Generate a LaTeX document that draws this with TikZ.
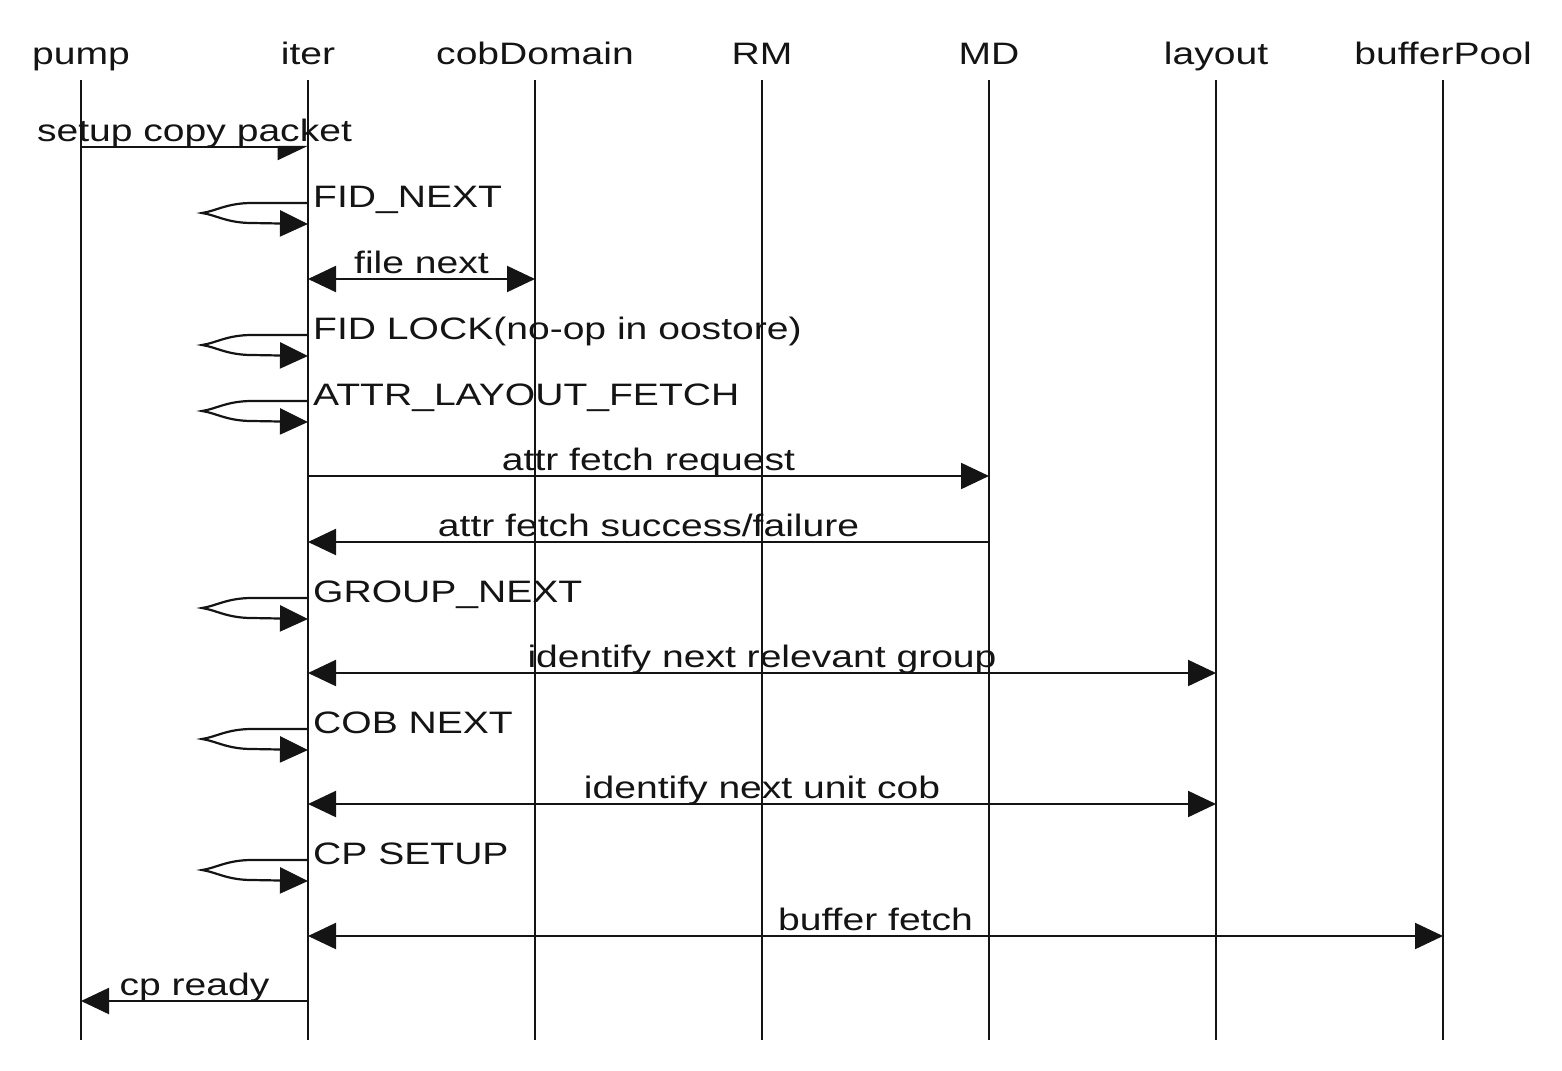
\documentclass[tikz,border=0pt]{standalone}
\usepackage{fontspec}
\setmainfont{Liberation Sans}[FakeStretch=1.26]
\usetikzlibrary{arrows.meta}
\definecolor{ink}{RGB}{20,20,20}
\newcommand{\sloop}[3]{%
  \coordinate (#1a) at (308,#2);
  \coordinate (#1b) at (308,#2+21);
  \node[selflbl] (#1l) at (313,#2+4) {#3};
  \draw[msg] (#1a) -- ++(-56,0) .. controls +(-25,0) and +(14,-2) .. ++(-50,10)
     .. controls +(14,2) and +(-25,0) .. ++(50,10) -- (#1b);
}
\begin{document}
\begin{tikzpicture}[x=1pt,y=-1pt,
  tip/.tip={Triangle[length=28pt,width=26pt]},
  life/.style={draw=ink,line width=2.2pt},
  msg/.style={draw=ink,line width=2.2pt,-tip},
  msghalf/.style={draw=ink,line width=2.2pt,-{Triangle[length=28pt,width=26pt,harpoon,swap]}},
  both/.style={draw=ink,line width=2.2pt,tip-tip},
  txt/.style={text=ink,inner sep=0pt,font=\fontsize{31}{33}\selectfont},
  head/.style={txt,anchor=base},
  lbl/.style={txt,anchor=base,yshift=6pt},
  selflbl/.style={txt,anchor=base west}]
\useasboundingbox (0,0) rectangle (1562,1070);

% lifeline heads
\node[head] (pump) at (81,65) {pump};
\node[head] (iter) at (308,65) {iter};
\node[head] (cob) at (535,65) {cobDomain};
\node[head] (rm) at (762,65) {RM};
\node[head] (md) at (989,65) {MD};
\node[head] (lay) at (1216,65) {layout};
\node[head] (bp) at (1443,65) {bufferPool};

\foreach \n/\x in {pump/81,iter/308,cob/535,rm/762,md/989,lay/1216,bp/1443}{
  \coordinate (\n top) at (\x,80);
  \coordinate (\n bot) at (\x,1040);
  \draw[life] (\n top) -- (\n bot);
}

% messages
\coordinate (m1s) at (81,147); \coordinate (m1e) at (308,147);
\draw[msghalf] (m1s) -- node[lbl] (l1) {setup copy packet} (m1e);

\sloop{s1}{203}{FID\_NEXT}

\coordinate (m3s) at (308,279); \coordinate (m3e) at (535,279);
\draw[both] (m3s) -- node[lbl] (l3) {file next} (m3e);

\sloop{s2}{335}{FID LOCK(no-op in oostore)}
\sloop{s3}{401}{ATTR\_LAYOUT\_FETCH}

\coordinate (m6s) at (308,476); \coordinate (m6e) at (989,476);
\draw[msg] (m6s) -- node[lbl] (l6) {attr fetch request} (m6e);

\coordinate (m7s) at (989,542); \coordinate (m7e) at (308,542);
\draw[msg] (m7s) -- node[lbl] (l7) {attr fetch success/failure} (m7e);

\sloop{s4}{598}{GROUP\_NEXT}

\coordinate (m9s) at (308,673); \coordinate (m9e) at (1216,673);
\draw[both] (m9s) -- node[lbl] (l9) {identify next relevant group} (m9e);

\sloop{s5}{729}{COB NEXT}

\coordinate (m11s) at (308,804); \coordinate (m11e) at (1216,804);
\draw[both] (m11s) -- node[lbl] (l11) {identify next unit cob} (m11e);

\sloop{s6}{860}{CP SETUP}

\coordinate (m13s) at (308,936); \coordinate (m13e) at (1443,936);
\draw[both] (m13s) -- node[lbl] (l13) {buffer fetch} (m13e);

\coordinate (m14s) at (308,1001); \coordinate (m14e) at (81,1001);
\draw[msg] (m14s) -- node[lbl] (l14) {cp ready} (m14e);
\end{tikzpicture}
\end{document}
